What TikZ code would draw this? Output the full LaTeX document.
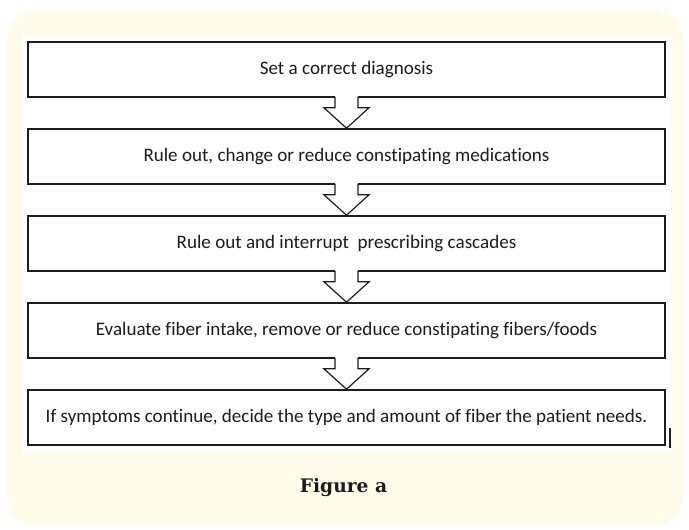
\documentclass[tikz,border=0pt]{standalone}
\usepackage{fontspec}
\setmainfont{Carlito}[Ligatures=NoCommon]
\newfontfamily\capfont{DejaVu Serif}
\usetikzlibrary{positioning,calc}
\definecolor{cream}{HTML}{FFFBE8}
\definecolor{ink}{HTML}{1C1C1C}
\tikzset{
  stepbox/.style={draw=ink,line width=1.2pt,fill=white,minimum width=477.75pt,minimum height=41.25pt,inner sep=0pt,font=\fontsize{14.3}{17}\selectfont,text=ink},
  hol/.style={draw=ink,line width=0.9pt,line join=miter},
}
\newcommand{\hollowarr}[2]{%
  \fill[white] ($(#1.south)+(-8.6pt,1.6pt)$) -- ($(#1.south)+(-8.6pt,-7.5pt)$) -- ($(#1.south)+(-16.9pt,-7.5pt)$) -- (#2.north)
    -- ($(#1.south)+(16.9pt,-7.5pt)$) -- ($(#1.south)+(8.6pt,-7.5pt)$) -- ($(#1.south)+(8.6pt,1.6pt)$) -- cycle;
  \draw[hol] ($(#1.south)+(-8.6pt,0.6pt)$) -- ($(#1.south)+(-8.6pt,-7.5pt)$) -- ($(#1.south)+(-16.9pt,-7.5pt)$) -- (#2.north)
    -- ($(#1.south)+(16.9pt,-7.5pt)$) -- ($(#1.south)+(8.6pt,-7.5pt)$) -- ($(#1.south)+(8.6pt,0.6pt)$);
}
\begin{document}
\begin{tikzpicture}[x=0.75pt,y=0.75pt,node distance=22.8pt]
\useasboundingbox (0,0) rectangle (689,529);
\fill[cream,rounded corners=22.5pt] (7,3) rectangle (683,519);
\fill[white] (22,77) rectangle (671,493);
\node[stepbox] (s1) at (346.5,459.5) {Set a correct diagnosis};
\node[stepbox,below=of s1] (s2) {Rule out, change or reduce constipating medications};
\node[stepbox,below=of s2] (s3) {Rule out and interrupt~ prescribing cascades};
\node[stepbox,below=of s3] (s4) {Evaluate fiber intake, remove or reduce constipating fibers/foods};
\node[stepbox,below=of s4] (s5) {If symptoms continue, decide the type and amount of fiber the patient needs.};
\hollowarr{s1}{s2} \hollowarr{s2}{s3} \hollowarr{s3}{s4} \hollowarr{s4}{s5}
\draw[ink,line width=1pt] (670,101) -- (670,81);
\node[anchor=base,font=\capfont\bfseries\fontsize{14}{16}\selectfont,text=ink] (cap) at (343.5,37) {Figure a};
\end{tikzpicture}
\end{document}
